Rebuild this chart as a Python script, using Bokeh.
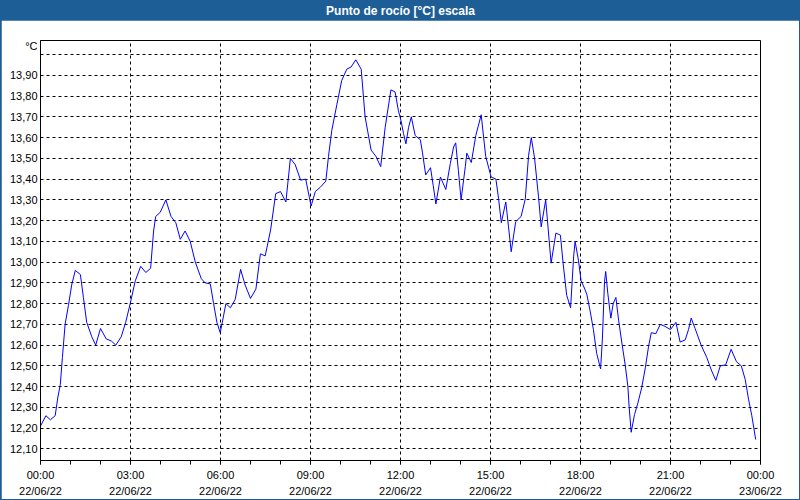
from bokeh.plotting import figure
from bokeh.models import Range1d, FixedTicker
from bokeh.layouts import column
from bokeh.core.properties import value
from bokeh.embed import file_html
from bokeh.resources import INLINE

# ---- data (hours since 22/06/22 00:00, dew point in degC) ----
hours = [
    0.00, 0.18, 0.33, 0.49, 0.58, 0.66, 0.73, 0.82, 0.93, 1.04, 1.16, 1.33, 1.43, 1.54, 1.71, 1.84,
    2.00, 2.19, 2.36, 2.51, 2.69, 2.84, 2.99, 3.16, 3.34, 3.51, 3.67, 3.77, 3.84, 3.99, 4.18, 4.35,
    4.51, 4.66, 4.82, 4.99, 5.16, 5.36, 5.49, 5.66, 5.77, 5.88, 5.99,
    6.06, 6.18, 6.33, 6.49, 6.67, 6.82, 7.00, 7.18, 7.33, 7.49, 7.67, 7.84, 8.00, 8.18, 8.33, 8.49,
    8.67, 8.84, 9.02, 9.16, 9.32, 9.51, 9.60, 9.71, 9.88, 10.04, 10.21, 10.35, 10.51, 10.69, 10.82,
    11.02, 11.18, 11.34, 11.49, 11.68, 11.82, 11.93,
    12.02, 12.10, 12.18, 12.27, 12.36, 12.49, 12.66, 12.73, 12.84, 13.00, 13.09, 13.18, 13.33, 13.51,
    13.66, 13.77, 13.84, 13.93, 14.02, 14.16, 14.21, 14.36, 14.51, 14.69, 14.84, 15.02, 15.18, 15.27,
    15.36, 15.51, 15.60, 15.69, 15.84, 16.02, 16.16, 16.27, 16.36, 16.47, 16.60, 16.69, 16.84, 17.02,
    17.18, 17.33, 17.42, 17.54, 17.67, 17.77, 17.82, 17.93,
    18.02, 18.13, 18.21, 18.32, 18.43, 18.54, 18.67, 18.73, 18.80, 18.84, 18.91, 19.01, 19.09, 19.18,
    19.27, 19.38, 19.49, 19.58, 19.62, 19.69, 19.80, 19.91, 20.04, 20.16, 20.27, 20.36, 20.51, 20.66,
    20.82, 21.00, 21.18, 21.32, 21.49, 21.60, 21.69, 21.82, 22.02, 22.21, 22.36, 22.51, 22.66, 22.84,
    23.02, 23.20, 23.36, 23.49, 23.60, 23.71, 23.84,
]
dew_point = [
    12.21, 12.26, 12.24, 12.26, 12.35, 12.41, 12.54, 12.70, 12.79, 12.89, 12.96, 12.94, 12.83, 12.71, 12.64, 12.60,
    12.68, 12.63, 12.62, 12.60, 12.64, 12.71, 12.80, 12.91, 12.98, 12.95, 12.97, 13.15, 13.22, 13.24, 13.30, 13.22,
    13.19, 13.11, 13.15, 13.10, 13.00, 12.92, 12.90, 12.895, 12.80, 12.71, 12.66,
    12.71, 12.80, 12.78, 12.82, 12.965, 12.89, 12.825, 12.87, 13.04, 13.03, 13.155, 13.33, 13.34, 13.29, 13.50, 13.47,
    13.395, 13.40, 13.27, 13.34, 13.36, 13.39, 13.51, 13.635, 13.76, 13.875, 13.93, 13.94, 13.975, 13.93, 13.70,
    13.54, 13.51, 13.46, 13.65, 13.83, 13.82, 13.73,
    13.68, 13.62, 13.57, 13.65, 13.70, 13.61, 13.59, 13.53, 13.42, 13.455, 13.37, 13.28, 13.41, 13.35,
    13.475, 13.555, 13.575, 13.44, 13.30, 13.46, 13.525, 13.48, 13.61, 13.71, 13.51, 13.41, 13.40, 13.305,
    13.19, 13.29, 13.17, 13.05, 13.195, 13.22, 13.305, 13.515, 13.60, 13.50, 13.315, 13.17, 13.30, 12.995,
    13.14, 13.13, 12.995, 12.84, 12.78, 13.025, 13.10, 13.01,
    12.91, 12.875, 12.845, 12.765, 12.675, 12.56, 12.485, 12.63, 12.905, 12.955, 12.85, 12.73, 12.80, 12.83,
    12.72, 12.61, 12.505, 12.40, 12.305, 12.18, 12.265, 12.32, 12.395, 12.49, 12.595, 12.66, 12.655, 12.70,
    12.69, 12.675, 12.71, 12.615, 12.625, 12.675, 12.73, 12.68, 12.60, 12.54, 12.48, 12.43, 12.50, 12.505,
    12.58, 12.52, 12.50, 12.435, 12.34, 12.26, 12.145,
]

x_tick_hours = [0, 3, 6, 9, 12, 15, 18, 21, 24]
x_tick_labels = [
    "00:00\n22/06/22", "03:00\n22/06/22", "06:00\n22/06/22", "09:00\n22/06/22",
    "12:00\n22/06/22", "15:00\n22/06/22", "18:00\n22/06/22", "21:00\n22/06/22",
    "00:00\n23/06/22",
]
x_minor_hours = list(range(0, 25))

y_ticks = [12.10, 12.20, 12.30, 12.40, 12.50, 12.60, 12.70, 12.80, 12.90, 13.00,
           13.10, 13.20, 13.30, 13.40, 13.50, 13.60, 13.70, 13.80, 13.90]
y_tick_labels = ["12,10", "12,20", "12,30", "12,40", "12,50", "12,60", "12,70", "12,80", "12,90", "13,00",
                 "13,10", "13,20", "13,30", "13,40", "13,50", "13,60", "13,70", "13,80", "13,90"]
y_grid_extra = [14.00]
unit_pos = 14.04
unit_label = "°C"
title_text = "Punto de rocío [°C] escala"

BAR = "#1e5e96"
FONT = "Liberation Sans"

# ---- title bar ----
t = figure(width=800, height=20, x_range=Range1d(0, 1), y_range=Range1d(0, 1),
           toolbar_location=None, output_backend="svg", min_border=0,
           background_fill_color=BAR, border_fill_color=BAR, outline_line_color=None)
t.axis.visible = False
t.grid.visible = False
t.text(x=[0.5], y=[0.5], text=[title_text], text_align="center", text_baseline="middle",
       text_color="white", text_font=value(FONT), text_font_style="bold", text_font_size="12px")

# ---- main chart ----
p = figure(width=798, height=479, margin=(0, 1, 1, 1),
           x_range=Range1d(0, 24), y_range=Range1d(12.044, 14.068),
           toolbar_location=None, output_backend="svg",
           min_border_left=39, min_border_right=39, min_border_top=20, min_border_bottom=38,
           background_fill_color="white", border_fill_color="white",
           outline_line_color="black", outline_line_width=1)

p.line(hours, dew_point, line_color="#0000ff", line_width=1)

p.xaxis.ticker = FixedTicker(ticks=x_tick_hours, minor_ticks=x_minor_hours)
p.xaxis.major_label_overrides = {h: lab for h, lab in zip(x_tick_hours, x_tick_labels)}
p.yaxis.ticker = FixedTicker(ticks=y_ticks + [unit_pos])
ov = {v: lab for v, lab in zip(y_ticks, y_tick_labels)}
ov[unit_pos] = unit_label
p.yaxis.major_label_overrides = ov

p.xgrid.ticker = FixedTicker(ticks=x_tick_hours)
p.ygrid.ticker = FixedTicker(ticks=y_ticks + y_grid_extra)
for g in (p.xgrid, p.ygrid):
    g.grid_line_color = "black"
    g.grid_line_dash = "3 3"
    g.grid_line_width = 1
    g.grid_line_alpha = 1

for ax in (p.xaxis, p.yaxis):
    ax.axis_line_color = "black"
    ax.major_tick_line_color = "black"
    ax.minor_tick_line_color = "black"
    ax.major_label_text_font = FONT
    ax.major_label_text_font_size = "11px"
    ax.major_label_text_color = "black"
    ax.major_tick_in = 0
    ax.minor_tick_in = 0

p.xaxis.major_tick_out = 4
p.xaxis.minor_tick_out = 4
p.xaxis.major_label_standoff = 4
p.xaxis.major_label_text_line_height = 1.35
p.yaxis.major_tick_out = 0
p.yaxis.minor_tick_out = 0
p.yaxis.major_label_standoff = 3

layout = column(t, p, spacing=0, styles={"background-color": BAR})

open("out.html", "w").write(file_html(layout, INLINE))
